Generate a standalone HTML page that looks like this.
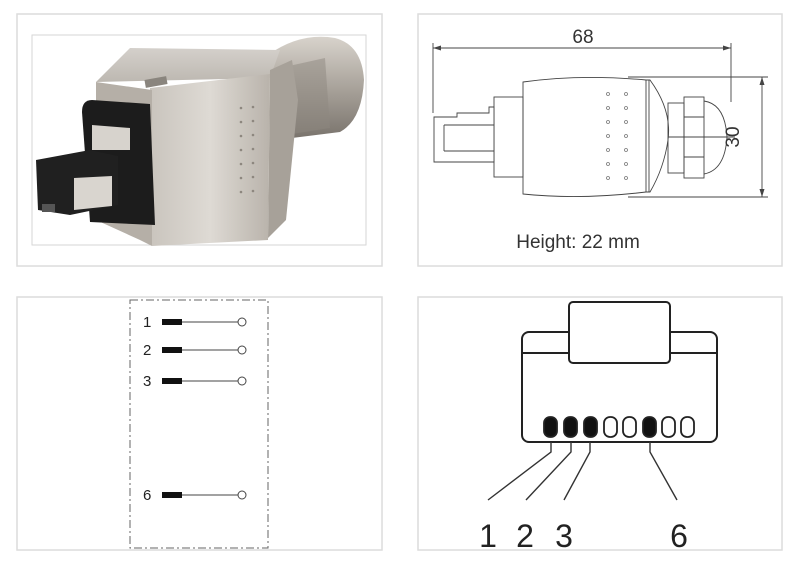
<!DOCTYPE html>
<html><head><style>
html,body{margin:0;padding:0;background:#fff;width:800px;height:561px;overflow:hidden}
svg{display:block}
text{font-family:"Liberation Sans Narrow","Liberation Sans",sans-serif}
</style></head><body>
<svg width="800" height="561" viewBox="0 0 800 561">
<defs>
<linearGradient id="metal" x1="0" y1="0" x2="1" y2="0"><stop offset="0" stop-color="#c9c4bd"/><stop offset="0.5" stop-color="#dedad4"/><stop offset="1" stop-color="#b9b3ab"/></linearGradient>
<linearGradient id="top" x1="0" y1="0" x2="0" y2="1"><stop offset="0" stop-color="#d4d0cb"/><stop offset="1" stop-color="#bdb8b1"/></linearGradient>
<linearGradient id="gland" x1="0" y1="0" x2="0" y2="1"><stop offset="0" stop-color="#d8d3cc"/><stop offset="0.5" stop-color="#a9a39b"/><stop offset="1" stop-color="#7a746d"/></linearGradient>
</defs>
<g fill="#fff" stroke="#dcdcdc" stroke-width="1.5">
<rect x="17" y="14" width="365" height="252"/>
<rect x="418" y="14" width="364" height="252"/>
<rect x="17" y="297" width="365" height="253"/>
<rect x="418" y="297" width="364" height="253"/>
</g>
<rect x="32" y="35" width="334" height="210" fill="#fff" stroke="#d6d6d6"/>
<path d="M268 55 Q300 32 335 38 Q362 45 364 80 Q362 120 340 132 L292 138 Z" fill="url(#gland)"/>
<path d="M280 68 L325 58 L330 128 L292 134 Z" fill="#8e8880" opacity="0.5"/>
<path d="M96 82 L130 48 L280 50 L270 78 L96 82 Z" fill="url(#top)"/>
<path d="M270 70 L292 60 L298 100 L286 220 L268 238 Z" fill="#a7a199"/>
<path d="M150 88 L270 74 L268 240 L152 246 Z" fill="url(#metal)"/>
<path d="M96 82 L152 90 L152 246 L140 240 L96 220 Z" fill="#b5afa7"/>
<path d="M82 112 Q82 100 92 100 L150 104 L155 225 L90 222 Z" fill="#1c1c1c"/>
<path d="M92 125 L130 128 L130 150 L92 150 Z" fill="#d7d3cd"/>
<path d="M36 160 L90 150 L118 156 L118 205 L70 215 L38 210 Z" fill="#202020"/>
<path d="M74 178 L112 176 L112 206 L74 210 Z" fill="#d9d5cf"/>
<path d="M42 204 L55 204 L55 212 L42 212 Z" fill="#555"/>
<g fill="#8d877f"><circle cx="241" cy="108" r="1.3"/><circle cx="253" cy="107" r="1.3"/><circle cx="241" cy="122" r="1.3"/><circle cx="253" cy="121" r="1.3"/><circle cx="241" cy="136" r="1.3"/><circle cx="253" cy="135" r="1.3"/><circle cx="241" cy="150" r="1.3"/><circle cx="253" cy="149" r="1.3"/><circle cx="241" cy="164" r="1.3"/><circle cx="253" cy="163" r="1.3"/><circle cx="241" cy="178" r="1.3"/><circle cx="253" cy="177" r="1.3"/><circle cx="241" cy="192" r="1.3"/><circle cx="253" cy="191" r="1.3"/></g>
<rect x="145" y="78" width="22" height="8" fill="#8a857e" transform="rotate(-10 156 82)"/>

<g stroke="#444" stroke-width="0.9" fill="none">
<line x1="433" y1="43" x2="433" y2="113"/>
<line x1="731" y1="43" x2="731" y2="102"/>
<line x1="433" y1="48" x2="731" y2="48"/>
<line x1="628" y1="77" x2="768" y2="77"/>
<line x1="628" y1="197" x2="768" y2="197"/>
<line x1="762" y1="77" x2="762" y2="197"/>
<line x1="655" y1="137" x2="735" y2="137"/>
<path d="M523 82 Q580 74 646 80 L650 80 Q672 110 668 140 Q664 168 650 192 L646 192 Q580 200 523 194 Z" fill="#fff"/>
<line x1="646" y1="80" x2="646" y2="192"/>
<line x1="649" y1="80" x2="649" y2="192"/>
<rect x="494" y="97" width="29" height="80"/>
<path d="M434 117 L457 117 L457 113 L489 113 L489 107 L494 107 L494 162 L434 162 Z" fill="#fff"/>
<line x1="444" y1="125" x2="494" y2="125"/>
<line x1="444" y1="151" x2="494" y2="151"/>
<line x1="444" y1="125" x2="444" y2="151"/>
<rect x="668" y="103" width="16" height="70"/>
<rect x="684" y="97" width="20" height="81"/>
<path d="M704 101 Q725 104 727 137 Q725 170 704 174"/>
<line x1="684" y1="117" x2="704" y2="117"/><line x1="684" y1="157" x2="704" y2="157"/>
</g>
<g fill="#444"><path d="M433 48 l8 -2.5 v5 z"/><path d="M731 48 l-8 -2.5 v5 z"/><path d="M762 77 l-2.5 8 h5 z"/><path d="M762 197 l-2.5 -8 h5 z"/></g>
<g fill="none" stroke="#777" stroke-width="0.8">
<circle cx="608" cy="94" r="1.5"/><circle cx="626" cy="94" r="1.5"/><circle cx="608" cy="108" r="1.5"/><circle cx="626" cy="108" r="1.5"/><circle cx="608" cy="122" r="1.5"/><circle cx="626" cy="122" r="1.5"/><circle cx="608" cy="136" r="1.5"/><circle cx="626" cy="136" r="1.5"/><circle cx="608" cy="150" r="1.5"/><circle cx="626" cy="150" r="1.5"/><circle cx="608" cy="164" r="1.5"/><circle cx="626" cy="164" r="1.5"/><circle cx="608" cy="178" r="1.5"/><circle cx="626" cy="178" r="1.5"/></g>
<text x="583" y="43" font-size="19" fill="#333" text-anchor="middle">68</text>
<text x="0" y="0" font-size="19" fill="#333" text-anchor="middle" transform="translate(739 137) rotate(-90)">30</text>
<text x="578" y="248" font-size="19" fill="#333" text-anchor="middle">Height: 22 mm</text>

<rect x="130" y="300" width="138" height="248" fill="none" stroke="#666" stroke-width="1" stroke-dasharray="8,3,2,3"/>
<g font-size="15" fill="#222">
<text x="143" y="327">1</text><text x="143" y="355">2</text><text x="143" y="386">3</text><text x="143" y="500">6</text></g>
<g fill="#111"><rect x="162" y="319" width="20" height="6"/><rect x="162" y="347" width="20" height="6"/><rect x="162" y="378" width="20" height="6"/><rect x="162" y="492" width="20" height="6"/></g>
<g stroke="#444" stroke-width="1" fill="#fff">
<line x1="182" y1="322" x2="238" y2="322"/><circle cx="242" cy="322" r="4"/>
<line x1="182" y1="350" x2="238" y2="350"/><circle cx="242" cy="350" r="4"/>
<line x1="182" y1="381" x2="238" y2="381"/><circle cx="242" cy="381" r="4"/>
<line x1="182" y1="495" x2="238" y2="495"/><circle cx="242" cy="495" r="4"/>
</g>

<g stroke="#222" stroke-width="2" fill="none">
<rect x="522" y="332" width="195" height="110" rx="7"/>
<line x1="522" y1="353" x2="717" y2="353"/>
<rect x="569" y="302" width="101" height="61" rx="4" fill="#fff"/>
</g>
<g stroke="#222" stroke-width="1.8">
<rect x="544" y="417" width="13" height="20" rx="6" fill="#111"/>
<rect x="564" y="417" width="13" height="20" rx="6" fill="#111"/>
<rect x="584" y="417" width="13" height="20" rx="6" fill="#111"/>
<rect x="604" y="417" width="13" height="20" rx="6" fill="#fff"/>
<rect x="623" y="417" width="13" height="20" rx="6" fill="#fff"/>
<rect x="643" y="417" width="13" height="20" rx="6" fill="#111"/>
<rect x="662" y="417" width="13" height="20" rx="6" fill="#fff"/>
<rect x="681" y="417" width="13" height="20" rx="6" fill="#fff"/>
</g>
<g stroke="#333" stroke-width="1.4" fill="none">
<path d="M551 442 L551 452 L488 500"/>
<path d="M571 442 L571 452 L526 500"/>
<path d="M590 442 L590 452 L564 500"/>
<path d="M650 442 L650 452 L677 500"/>
</g>
<g font-size="32" fill="#222" text-anchor="middle">
<text x="488" y="547">1</text><text x="525" y="547">2</text><text x="564" y="547">3</text><text x="679" y="547">6</text></g>
</svg>
</body></html>
